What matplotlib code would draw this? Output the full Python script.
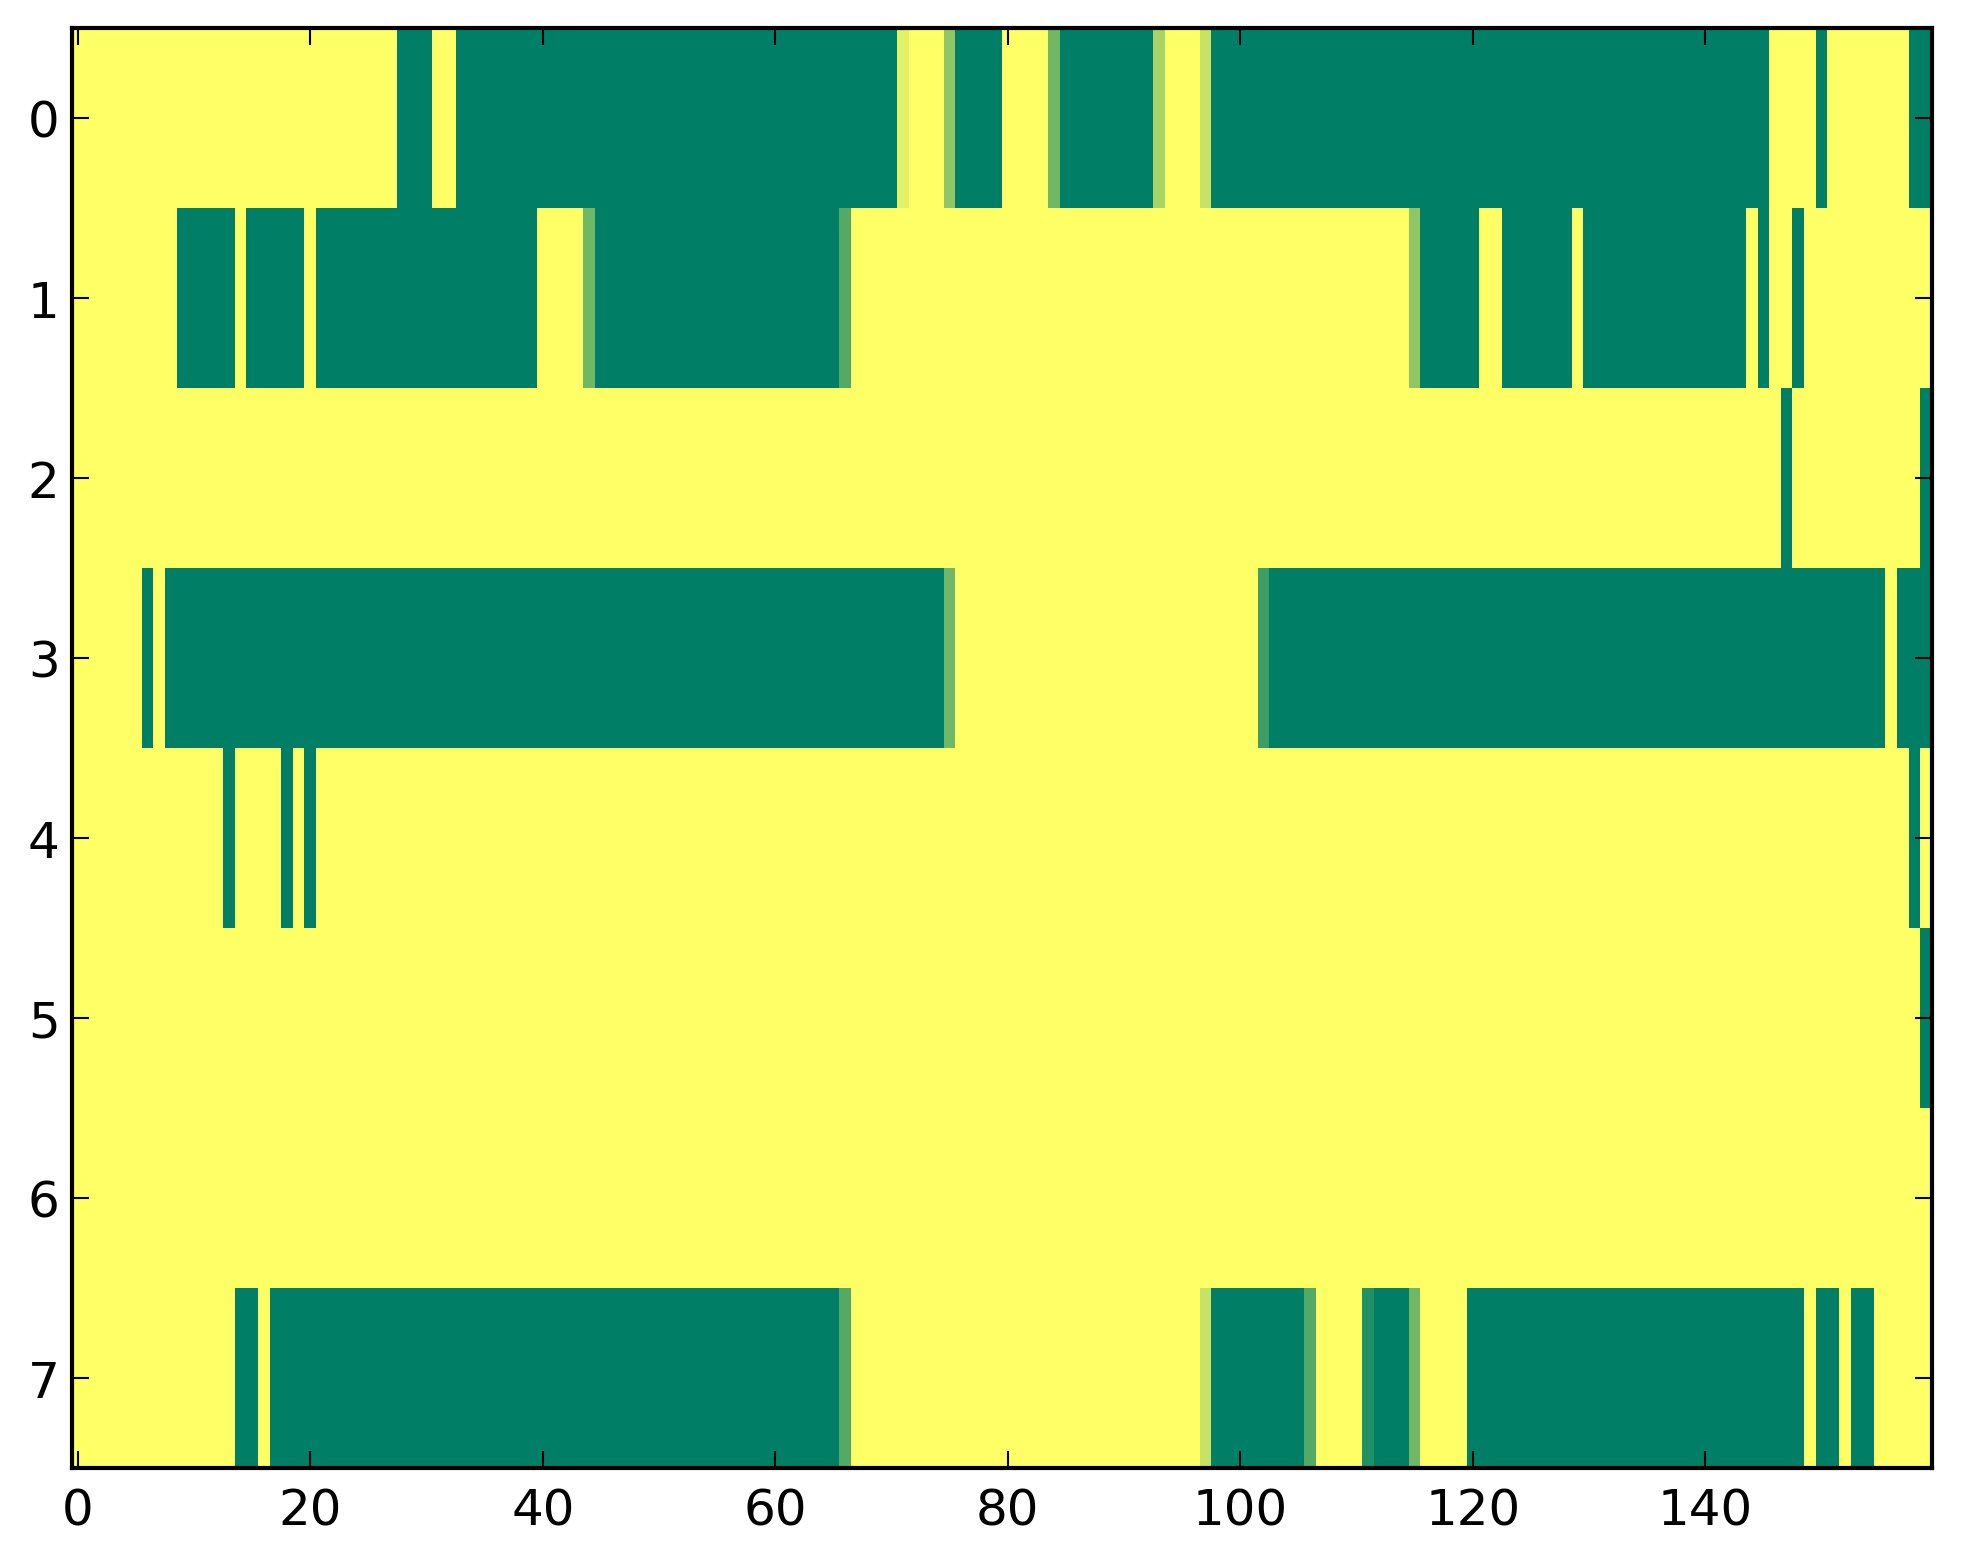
import numpy as np
import matplotlib
matplotlib.use('Agg')
import matplotlib.pyplot as plt

n_rows = 8
n_cols = 160

# non-yellow cells per row: (first column, last column, value); every other cell is 1.0
row0 = [(28, 30, 0.0), (33, 70, 0.0), (71, 71, 0.89), (75, 75, 0.56), (76, 79, 0.0),
        (84, 84, 0.44), (85, 92, 0.0), (93, 93, 0.66), (97, 97, 0.78), (98, 145, 0.0),
        (150, 150, 0.0), (158, 159, 0.0)]
row1 = [(9, 13, 0.0), (15, 19, 0.0), (21, 39, 0.0), (44, 44, 0.44), (45, 65, 0.0),
        (66, 66, 0.33), (115, 115, 0.56), (116, 120, 0.0), (123, 128, 0.0),
        (130, 143, 0.0), (145, 145, 0.0), (148, 148, 0.0)]
row2 = [(147, 147, 0.0), (159, 159, 0.0)]
row3 = [(6, 6, 0.0), (8, 74, 0.0), (75, 75, 0.44), (102, 102, 0.24), (103, 155, 0.0),
        (157, 159, 0.0)]
row4 = [(13, 13, 0.0), (18, 18, 0.0), (20, 20, 0.0), (158, 158, 0.0)]
row5 = [(159, 159, 0.0)]
row6 = []
row7 = [(14, 15, 0.0), (17, 65, 0.0), (66, 66, 0.33), (97, 97, 0.78), (98, 105, 0.0),
        (106, 106, 0.33), (111, 111, 0.13), (112, 114, 0.0), (115, 115, 0.44),
        (120, 148, 0.0), (150, 151, 0.0), (153, 154, 0.0)]

rows = [row0, row1, row2, row3, row4, row5, row6, row7]
x_ticks = [0, 20, 40, 60, 80, 100, 120, 140]
y_ticks = [0, 1, 2, 3, 4, 5, 6, 7]

data = np.ones((n_rows, n_cols))
for r, segs in enumerate(rows):
    for a, b, v in segs:
        data[r, a:b + 1] = v

plt.rcParams['font.family'] = 'DejaVu Sans'
plt.rcParams['font.size'] = 12
plt.rcParams['axes.linewidth'] = 1.0

W, H = 1963, 1564
fig = plt.figure(figsize=(W / 300, H / 300), dpi=300, facecolor='white')
ax = fig.add_axes([72 / W, (H - 1469) / H, (1932 - 72) / W, (1469 - 29) / H])
ax.imshow(data, cmap='summer', vmin=0, vmax=1, interpolation='nearest', aspect='auto')
ax.set_xlim(-0.5, n_cols - 0.5)
ax.set_ylim(n_rows - 0.5, -0.5)
ax.set_xticks(x_ticks)
ax.set_yticks(y_ticks)
ax.tick_params(direction='in', top=True, right=True, length=4, width=0.5)
ax.tick_params(axis='x', pad=4.5)
ax.tick_params(axis='y', pad=3)

fig.savefig('out.png', dpi=300, facecolor='white')
